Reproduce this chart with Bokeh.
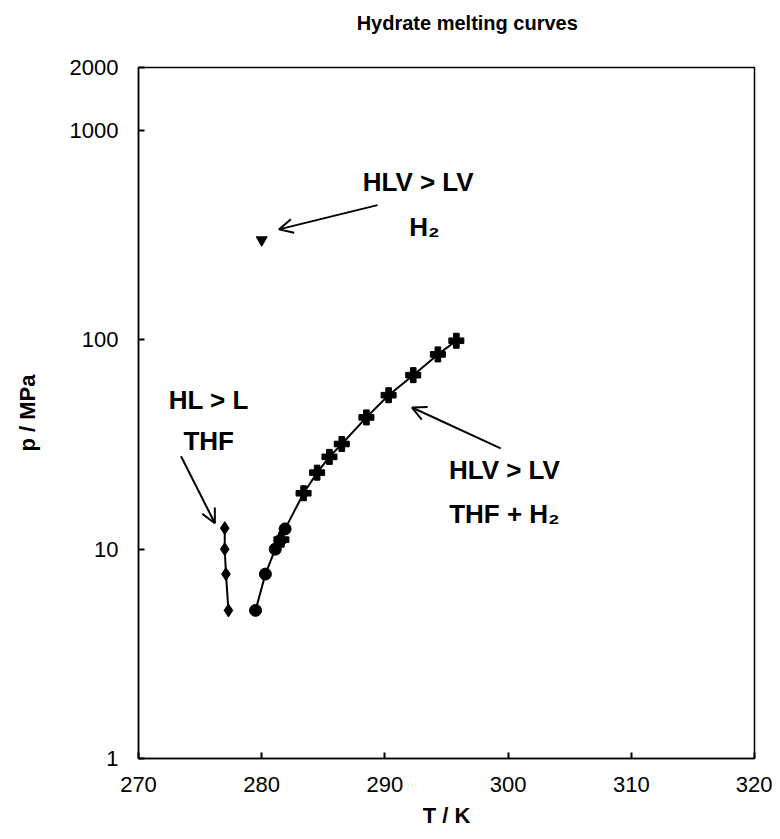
from bokeh.plotting import figure
from bokeh.layouts import column
from bokeh.models import Range1d, FixedTicker, PrintfTickFormatter, Label, Arrow, OpenHead
from bokeh.embed import file_html
from bokeh.resources import INLINE

# ---- data -------------------------------------------------------------
# THF hydrate (HL > L), diamonds
thf_T = [277.0, 277.0, 277.1, 277.3]
thf_p = [12.6, 10.0, 7.6, 5.1]

# THF + H2 hydrate (HLV > LV), circles
circ_T = [279.5, 280.3, 281.1, 281.5, 281.9]
circ_p = [5.1, 7.6, 10.0, 11.0, 12.5]

# THF + H2 hydrate (HLV > LV), crosses
cross_T = [281.6, 283.4, 284.5, 285.5, 286.5, 288.5, 290.3, 292.3, 294.3, 295.8]
cross_p = [11.1, 18.5, 23.2, 27.6, 31.8, 42.6, 54.4, 67.8, 85.2, 99.0]

# pure H2 hydrate (HLV > LV), inverted triangle
h2_T = [280.0]
h2_p = [300.0]

x_ticks = [270, 280, 290, 300, 310, 320]
y_ticks = [1, 10, 100, 1000, 2000]

title_text = "Hydrate melting curves"

# annotation texts (data coordinates)
ann_text = ["HLV > LV", "H\u2082", "HL > L", "THF", "HLV > LV", "THF + H\u2082"]
ann_T = [292.7, 293.2, 275.7, 275.7, 299.7, 299.7]
ann_p = [570.0, 345.0, 51.5, 32.8, 23.9, 14.8]

# arrows: start (T, p) -> end (T, p)
arr_T0 = [289.4, 299.4, 273.45]
arr_p0 = [440.0, 30.3, 27.8]
arr_T1 = [281.4, 292.2, 276.2]
arr_p1 = [337.0, 47.5, 13.3]

FONT = "Liberation Sans"
W = 772
TITLE_H = 34

# ---- title strip ------------------------------------------------------
t = figure(width=W, height=TITLE_H, x_range=Range1d(0, W), y_range=Range1d(0, TITLE_H),
           x_axis_location=None, y_axis_location=None, min_border=0,
           output_backend="svg", toolbar_location=None)
t.grid.visible = False
t.outline_line_color = None
t.background_fill_color = "white"
t.border_fill_color = "white"
t.add_layout(Label(x=412, y=12, text=title_text, text_font=FONT,
                   text_font_size="20px", text_font_style="bold",
                   text_align="center", text_baseline="middle", text_color="black"))

# ---- main figure ------------------------------------------------------
p = figure(frame_width=616, frame_height=691,
           min_border_left=138, min_border_right=18,
           min_border_top=67 - TITLE_H, min_border_bottom=73,
           x_range=Range1d(270, 320), y_range=Range1d(1, 2000),
           y_axis_type="log", output_backend="svg", toolbar_location=None)

p.background_fill_color = "white"
p.border_fill_color = "white"
p.xgrid.visible = False
p.ygrid.visible = False
p.outline_line_color = "black"
p.outline_line_width = 1.5
p.outline_line_alpha = 1.0

for ax in (p.xaxis[0], p.yaxis[0]):
    ax.axis_line_color = "black"
    ax.axis_line_width = 1.5
    ax.major_tick_in = 6
    ax.major_tick_out = 0
    ax.major_tick_line_width = 2
    ax.major_tick_line_color = "black"
    ax.minor_tick_line_color = None
    ax.major_label_text_font = FONT
    ax.major_label_text_font_size = "22px"
    ax.major_label_text_color = "black"
    ax.axis_label_text_font = FONT
    ax.axis_label_text_font_size = "22px"
    ax.axis_label_text_font_style = "bold"
    ax.axis_label_text_color = "black"

p.xaxis[0].ticker = FixedTicker(ticks=x_ticks, minor_ticks=[])
p.xaxis[0].major_label_standoff = 18
p.xaxis[0].axis_label = "T / K"
p.xaxis[0].axis_label_standoff = 8

p.yaxis[0].ticker = FixedTicker(ticks=y_ticks, minor_ticks=[])
p.yaxis[0].formatter = PrintfTickFormatter(format="%d")
p.yaxis[0].major_label_standoff = 20
p.yaxis[0].axis_label = "p / MPa"
p.yaxis[0].axis_label_standoff = 27

# ---- series -----------------------------------------------------------
p.line(thf_T, thf_p, line_color="black", line_width=2)
p.scatter(thf_T, thf_p, marker="diamond", size=13, fill_color="black", line_color="black")

pts = sorted(zip(circ_T + cross_T, circ_p + cross_p))
p.line([a for a, b in pts], [b for a, b in pts], line_color="black", line_width=2)
p.scatter(circ_T, circ_p, marker="circle", size=12, fill_color="black", line_color="black")
p.scatter(cross_T, cross_p, marker="plus", size=15, fill_color="black", line_color="black")

p.scatter(h2_T, h2_p, marker="inverted_triangle", size=11, fill_color="black", line_color="black")

# ---- annotations ------------------------------------------------------
for txt, x, y in zip(ann_text, ann_T, ann_p):
    p.add_layout(Label(x=x, y=y, text=txt, text_font=FONT, text_font_size="26px",
                       text_font_style="bold", text_align="center",
                       text_baseline="middle", text_color="black"))

for x0, y0, x1, y1 in zip(arr_T0, arr_p0, arr_T1, arr_p1):
    p.add_layout(Arrow(x_start=x0, y_start=y0, x_end=x1, y_end=y1,
                       line_color="black", line_width=2,
                       end=OpenHead(size=14, line_color="black", line_width=2)))

layout = column(t, p, spacing=0)
open("out.html", "w").write(file_html(layout, INLINE))
